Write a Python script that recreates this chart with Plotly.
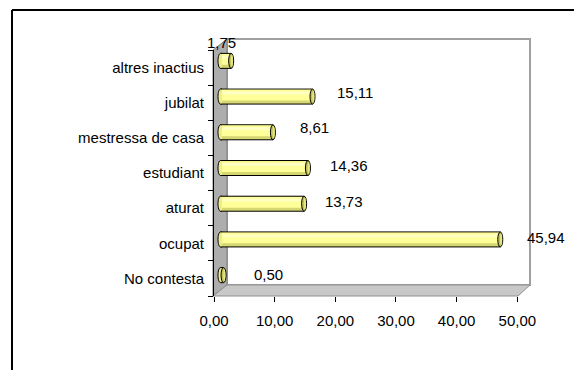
import plotly.graph_objects as go

# Survey answers, bottom to top
categories = ["No contesta", "ocupat", "aturat", "estudiant",
              "mestressa de casa", "jubilat", "altres inactius"]
values = [0.50, 45.94, 13.73, 14.36, 8.61, 15.11, 1.75]
x_ticks = [0, 10, 20, 30, 40, 50]

# pixel nudges for the value labels (x, y)
label_dx = [28, 25, 19, 20, 25, 22, -26]
label_dy = [1, 2, 2, 2.5, 4.5, 4, 18]

W, H = 574, 370
FONT_SIZE = 15


def px(x):
    return x / W


def py(y):
    return 1 - y / H


def fmt(v):
    return f"{v:.2f}".replace(".", ",")


def paper_path(points):
    return "M " + " L ".join(f"{px(x):.5f},{py(y):.5f}" for x, y in points) + " Z"


BAR_W = 0.42
HALF = BAR_W / 2
CAP_RX = 0.41
K = 0.5523

idx = list(range(len(categories)))
fig = go.Figure()

# cylinder body: darker underside, pale body, soft highlight
fig.add_trace(go.Bar(
    y=idx, x=values, orientation="h", xaxis="x2", yaxis="y2",
    width=BAR_W, marker=dict(color="#D6D672", line=dict(color="black", width=1)),
    hoverinfo="skip"))
fig.add_trace(go.Bar(
    y=idx, x=values, orientation="h", xaxis="x2", yaxis="y2",
    width=0.30, offset=-0.11, marker=dict(color="#FFFF99", line=dict(width=0)),
    hoverinfo="skip"))
fig.add_trace(go.Bar(
    y=idx, x=values, orientation="h", xaxis="x2", yaxis="y2",
    width=0.08, offset=0.06, marker=dict(color="#FFFFC4", line=dict(width=0)),
    hoverinfo="skip"))

shapes = []
# frame of the chart area
shapes.append(dict(type="line", xref="paper", yref="paper", x0=px(12), x1=px(574),
                   y0=py(10), y1=py(10), line=dict(color="black", width=2)))
shapes.append(dict(type="line", xref="paper", yref="paper", x0=px(12), x1=px(12),
                   y0=py(10), y1=py(370), line=dict(color="black", width=2)))
# back wall
shapes.append(dict(type="rect", xref="paper", yref="paper", layer="below",
                   x0=px(227), x1=px(530), y0=py(285), y1=py(39),
                   fillcolor="white", line=dict(color="#A0A0A0", width=2)))
# side wall
shapes.append(dict(type="path", xref="paper", yref="paper", layer="below",
                   path=paper_path([(213, 296), (213, 50), (227, 39), (227, 285)]),
                   fillcolor="#ADADAD", line=dict(color="#808080", width=1)))
# floor
shapes.append(dict(type="path", xref="paper", yref="paper", layer="below",
                   path=paper_path([(213, 296), (518, 296), (530, 285), (227, 285)]),
                   fillcolor="#C8C8C8", line=dict(color="#909090", width=1)))

for i, v in zip(idx, values):
    top, bot = i + HALF, i - HALF
    a, d = CAP_RX, 0.25
    # rounded far end of the cylinder
    shapes.append(dict(
        type="path", xref="x2", yref="y2", layer="above",
        path=(f"M {d},{top} L 0,{top} "
              f"C {-K * a},{top} {-a},{i + K * HALF} {-a},{i} "
              f"C {-a},{i - K * HALF} {-K * a},{bot} 0,{bot} L {d},{bot}"),
        fillcolor="#EDED8A", line=dict(color="black", width=1)))
    # end cap
    shapes.append(dict(type="circle", xref="x2", yref="y2", layer="above",
                       x0=v - a, x1=v + a, y0=bot, y1=top,
                       fillcolor="#C2C25A", line=dict(color="black", width=1)))
    shapes.append(dict(type="circle", xref="x2", yref="y2", layer="above",
                       x0=v - a * 0.1, x1=v + a * 0.75, y0=i - HALF * 0.8, y1=i + HALF * 0.8,
                       fillcolor="#E6E684", line=dict(width=0)))

annotations = []
for i, v, dx, dy in zip(idx, values, label_dx, label_dy):
    annotations.append(dict(x=v, y=i, xref="x2", yref="y2", text=fmt(v),
                            showarrow=False, xanchor="left", yanchor="middle",
                            xshift=dx, yshift=dy,
                            font=dict(size=FONT_SIZE, color="black")))

fig.update_layout(
    width=W, height=H, autosize=False,
    margin=dict(l=0, r=0, t=0, b=0, pad=0, autoexpand=False),
    paper_bgcolor="white", plot_bgcolor="rgba(0,0,0,0)",
    showlegend=False, barmode="overlay",
    font=dict(family="Liberation Sans, Arial, sans-serif", size=FONT_SIZE, color="black"),
    shapes=shapes, annotations=annotations,
    xaxis=dict(domain=[px(214), px(517.3)], range=[0, 50], anchor="y",
               tickvals=x_ticks, ticktext=[fmt(t) for t in x_ticks],
               ticks="outside", ticklen=5, tickcolor="black", tickwidth=1,
               showline=False, showgrid=False, zeroline=False, automargin=False,
               ticklabelstandoff=6, fixedrange=True),
    yaxis=dict(domain=[py(296), py(50)], type="category",
               categoryorder="array", categoryarray=categories,
               tickvals=categories, range=[-0.5, 6.5], anchor="x",
               ticks="outside", ticklen=5, tickcolor="black", tickson="boundaries",
               showline=True, linecolor="black", linewidth=1,
               ticklabelstandoff=6, automargin=False,
               showgrid=False, zeroline=False, fixedrange=True),
    xaxis2=dict(domain=[px(214.4), px(525)], range=[-1, 50], anchor="y2",
                visible=False, fixedrange=True, automargin=False),
    yaxis2=dict(domain=[py(293), py(43)], range=[-0.5, 6.5], anchor="x2",
                visible=False, fixedrange=True, automargin=False),
)

# category labels live on the front axis; bars only need their own plane
fig.add_trace(go.Scatter(x=[None], y=[categories[0]], xaxis="x", yaxis="y",
                         mode="markers", hoverinfo="skip"))

fig.write_html("out.html", config={"displayModeBar": False})
